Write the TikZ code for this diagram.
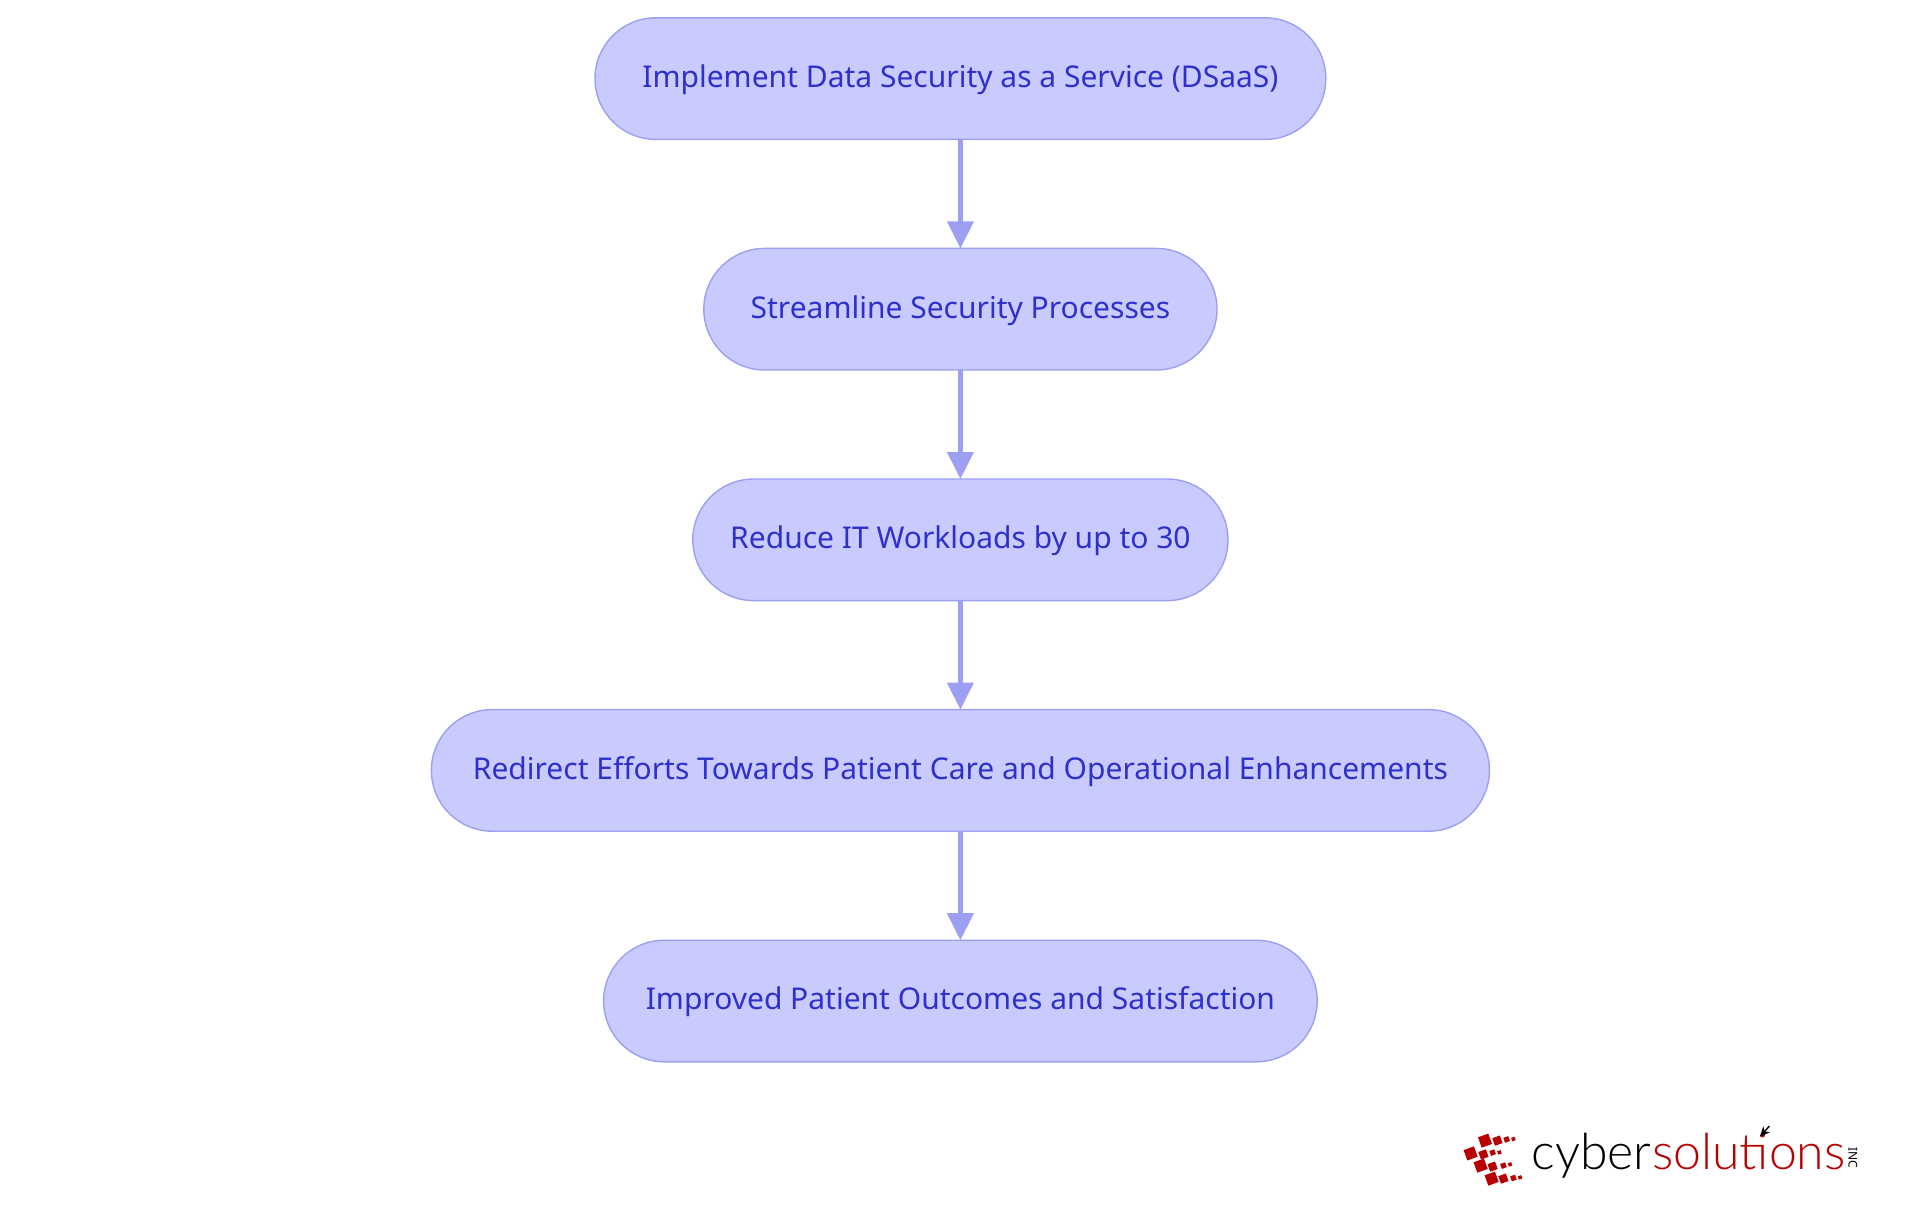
\documentclass[tikz,border=0pt]{standalone}
\usepackage{fontspec}
\setmainfont{Noto Sans}
\newfontfamily\logofont{Lato Light}
\usetikzlibrary{arrows.meta, positioning}
\definecolor{stepfill}{HTML}{C9CBFE}
\definecolor{stepline}{HTML}{9C9FF2}
\definecolor{steptext}{HTML}{2E30CC}
\definecolor{logored}{HTML}{B90000}

\begin{document}
\begin{tikzpicture}[x=1pt,y=1pt,
	stepbox/.style={
		draw=stepline,fill=stepfill,text=steptext,rounded corners=30.4pt,line width=0.7pt,
		minimum height=60.8pt,inner sep=0pt,outer sep=0pt,align=center,
		text height=11.8pt,text depth=3pt,
		font=\fontsize{15}{18}\selectfont
	},
	steparrow/.style={draw=stepline,line width=2.1pt,-{Triangle[length=13.5pt,width=13pt,fill=stepline]}},
	sqa/.style={fill=logored,rotate=20,minimum size=5.5pt,inner sep=0pt},
	sqb/.style={fill=logored,rotate=20,minimum size=4pt,inner sep=0pt},
	sqc/.style={fill=logored,rotate=20,minimum size=2.6pt,inner sep=0pt},
	sqd/.style={fill=logored,rotate=20,minimum size=1.8pt,inner sep=0pt},
	logotext/.style={inner sep=0pt,anchor=base west,font=\logofont\fontsize{25}{25}\selectfont}
]
	\useasboundingbox (0,0) rectangle (960,-607.5);

	\node[stepbox,minimum width=365.4pt] at (480.2,-39.3) (n1) {Implement Data Security as a Service (DSaaS)};
	\node[stepbox,minimum width=256.6pt,below=54.5pt of n1] (n2) {Streamline Security Processes};
	\node[stepbox,minimum width=267.6pt,below=54.5pt of n2] (n3) {Reduce IT Workloads by up to 30};
	\node[stepbox,minimum width=529pt,below=54.5pt of n3] (n4) {Redirect Efforts Towards Patient Care and Operational Enhancements};
	\node[stepbox,minimum width=356.8pt,below=54.5pt of n4] (n5) {Improved Patient Outcomes and Satisfaction};

	\draw[steparrow] (n1) -- (n2);
	\draw[steparrow] (n2) -- (n3);
	\draw[steparrow] (n3) -- (n4);
	\draw[steparrow] (n4) -- (n5);

	% logo
	\node[sqa] at (742.5,-570.3) (a1) {};
	\node[sqb] at (748.7,-570.3) (a2) {};
	\node[sqc] at (753.3,-569.7) (a3) {};
	\node[sqd] at (756.7,-569.5) (a4) {};
	\node[sqa] at (735.3,-576.7) (b1) {};
	\node[sqb] at (741.7,-577.2) (b2) {};
	\node[sqc] at (746.3,-576.3) (b3) {};
	\node[sqd] at (749.7,-576.2) (b4) {};
	\node[sqa] at (740.3,-582.8) (c1) {};
	\node[sqb] at (746.3,-583.3) (c2) {};
	\node[sqc] at (751.7,-582.8) (c3) {};
	\node[sqd] at (755,-582.2) (c4) {};
	\node[sqa] at (745.8,-589.3) (d1) {};
	\node[sqb] at (751.7,-589.3) (d2) {};
	\node[sqc] at (756.7,-589) (d3) {};
	\node[sqd] at (760,-588.7) (d4) {};

	\node[logotext,text=black] at (765.5,-584.5) (cyber) {cyber};
	\node[logotext,text=logored,right=0pt of cyber.base east,anchor=base west] (solutions) {solutions};
	\node[rotate=-90,font=\fontsize{6}{7}\selectfont,inner sep=0pt] at (926.5,-578.7) (inc) {INC};
	\coordinate (tipa) at (884.7,-563);
	\coordinate (tipb) at (880,-568.3);
	\draw[-{Stealth[length=5pt,width=4.5pt]},line width=0.7pt] (tipa) -- (tipb);
\end{tikzpicture}
\end{document}
